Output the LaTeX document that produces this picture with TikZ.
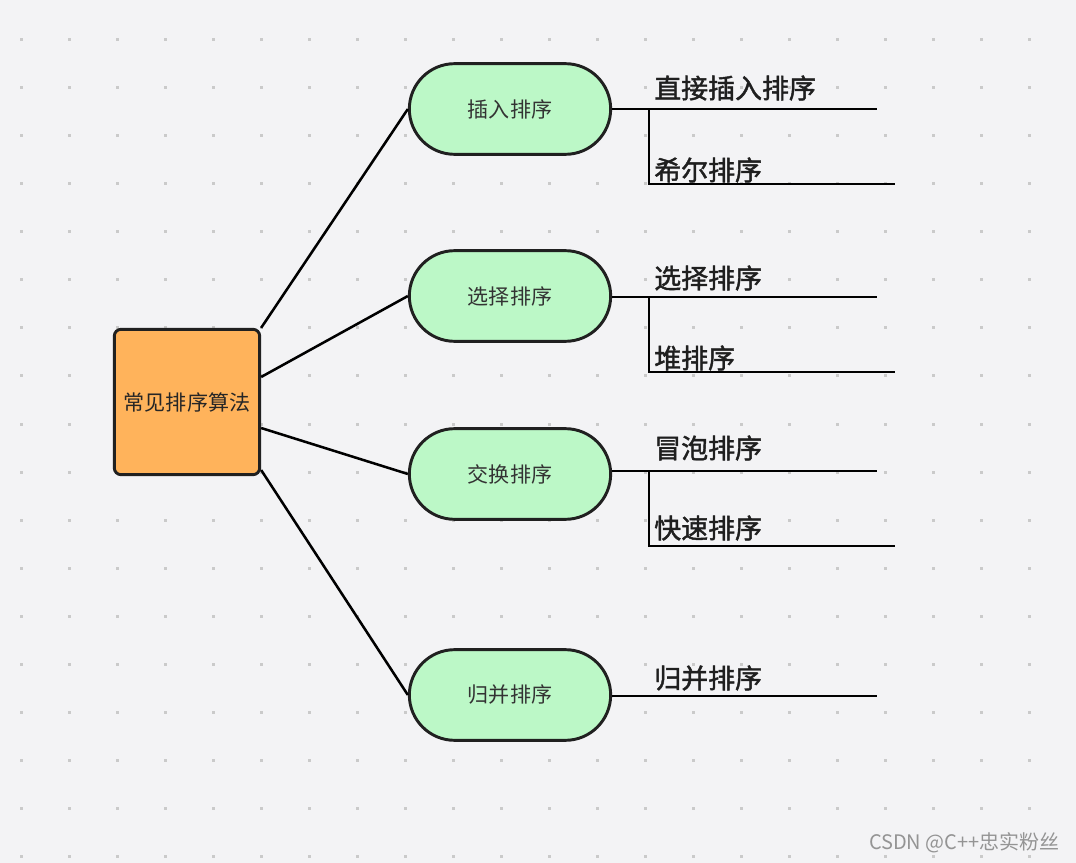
\documentclass[tikz,border=0pt]{standalone}
\usepackage{fontspec}
\setmainfont{Noto Sans CJK SC}
\newfontfamily\algfont[FakeBold=1.6]{Noto Sans CJK SC}
\usetikzlibrary{positioning}
\definecolor{bgcol}{HTML}{F3F3F5}
\definecolor{dotcol}{HTML}{CACACA}
\definecolor{rootcol}{HTML}{FFB35B}
\definecolor{sortcol}{HTML}{BCF8C7}
\definecolor{edgecol}{HTML}{202020}
\begin{document}
\begin{tikzpicture}[x=0.75pt,y=-0.75pt,
  rootbox/.style={draw=edgecol,line width=2.2pt,fill=rootcol,rounded corners=5pt,
    minimum width=109pt,minimum height=109pt,inner sep=0pt,
    font=\fontsize{15.8}{18}\selectfont,text=black!85},
  sortbox/.style={draw=edgecol,line width=2.2pt,fill=sortcol,rounded corners=34pt,
    minimum width=151pt,minimum height=68pt,inner sep=0pt,
    font=\fontsize{15.8}{18}\selectfont,text=black!80},
  algname/.style={anchor=west,inner sep=0pt,font=\fontsize{20.2}{22}\algfont,text=black!88},
  link/.style={line width=1.9pt,black},
  wmark/.style={anchor=east,inner sep=0pt,font=\fontsize{15}{17}\selectfont,text=black!42}]
\useasboundingbox (0,0) rectangle (1076,863);
\fill[bgcol] (0,0) rectangle (1076,863);
% dot grid
\foreach \i in {0,...,21}
  \foreach \j in {0,...,17}
    \fill[dotcol] (19.5+48*\i,38.5+48*\j) rectangle ++(3,3);

% main nodes
\node[rootbox] (root) at (187,402) {常见排序算法};
\node[sortbox] (insert) at (510,109) {插入排序};
\node[sortbox] (select) at (510,296) {选择排序};
\node[sortbox] (swap) at (510,474) {交换排序};
\node[sortbox] (merge) at (510,695) {归并排序};

\draw[link] (root.north east) -- (insert.west);
\draw[link] ([yshift=18.75pt]root.east) -- (select.west);
\draw[link] ([yshift=-19.5pt]root.east) -- (swap.west);
\draw[link] ([yshift=-51pt]root.east) -- (merge.west);

% insert
\coordinate (insertj) at (649,109);
\coordinate (insert1) at (877,109);
\coordinate (insert2) at (895,184);
\draw[link] (insert.east) -- (insert1);
\draw[link] (insertj) |- (insert2);
\node[algname] (direct) at (654,88) {直接插入排序};
\node[algname] (shell) at (654,170) {希尔排序};

% select
\coordinate (selectj) at (649,297);
\coordinate (select1) at (877,297);
\coordinate (select2) at (895,372);
\draw[link] (select.east |- selectj) -- (select1);
\draw[link] (selectj) |- (select2);
\node[algname] (simple) at (654,278) {选择排序};
\node[algname] (heap) at (654,358) {堆排序};

% swap
\coordinate (swapj) at (649,471);
\coordinate (swap1) at (877,471);
\coordinate (swap2) at (895,546);
\draw[link] (swap.east |- swapj) -- (swap1);
\draw[link] (swapj) |- (swap2);
\node[algname] (bubble) at (654,448) {冒泡排序};
\node[algname] (quick) at (654,528) {快速排序};

% merge
\coordinate (merge1) at (877,696);
\draw[link] (merge.east |- merge1) -- (merge1);
\node[algname] (mergesort) at (654,678) {归并排序};

\node[wmark] (csdn) at (1060,843) {CSDN @C++忠实粉丝};
\end{tikzpicture}
\end{document}
